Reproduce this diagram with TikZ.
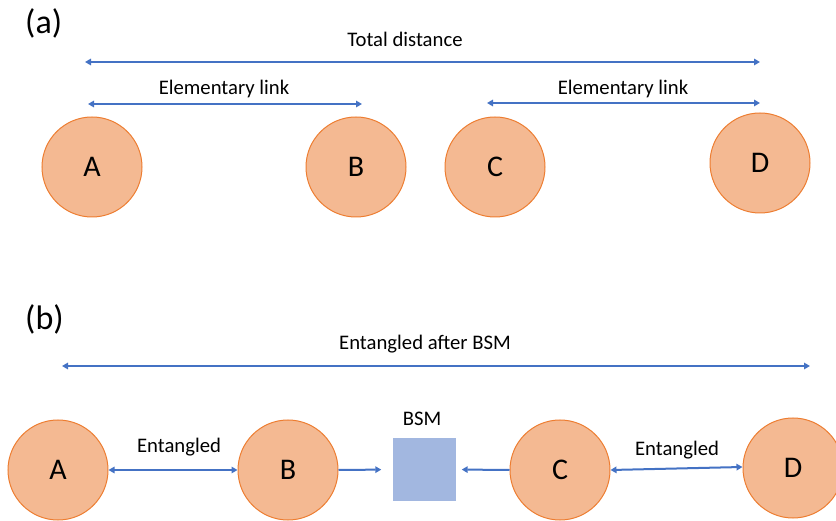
\documentclass[tikz,border=0pt]{standalone}
\usepackage{fontspec}
\setmainfont{Carlito}
\usetikzlibrary{arrows.meta}
\definecolor{nodefill}{HTML}{F4B992}
\definecolor{nodeline}{HTML}{ED7D31}
\definecolor{arrowblue}{HTML}{4472C4}
\definecolor{bsmfill}{HTML}{A2B7E0}
\tikzset{
  station/.style={circle, draw=nodeline, fill=nodefill, line width=1pt, minimum size=100pt, inner sep=0pt, font=\fontsize{30}{34}\selectfont},
  lbl/.style={anchor=base, inner sep=0pt, font=\fontsize{20.7}{24}\selectfont},
  panel/.style={anchor=base west, inner sep=0pt, font=\fontsize{34}{40}\selectfont},
  link/.style={draw=arrowblue, line width=2pt},
  tipboth/.style={link, {Triangle[length=6pt,width=6.5pt]}-{Triangle[length=6pt,width=6.5pt]}},
  tipend/.style={link, -{Triangle[length=6pt,width=6.5pt]}},
  bsmbox/.style={draw=none, fill=bsmfill, minimum width=63pt, minimum height=63pt, inner sep=0pt}
}
\begin{document}
\begin{tikzpicture}[x=1pt,y=-1pt]
\useasboundingbox (0,0) rectangle (836,521);
\clip (0,0) rectangle (836,521);
% panel (a)
\node[panel] (pa) at (25,34) {(a)};
\node[lbl] (td) at (405,47) {Total distance};
\coordinate (td1) at (85,62);
\coordinate (td2) at (760,62);
\draw[tipboth] (td1) -- (td2);
\node[lbl] (el1) at (224,95) {Elementary link};
\coordinate (el1a) at (88,104);
\coordinate (el1b) at (362,104);
\draw[tipboth] (el1a) -- (el1b);
\node[lbl] (el2) at (623,95) {Elementary link};
\coordinate (el2a) at (487,103);
\coordinate (el2b) at (760,103);
\draw[tipboth] (el2a) -- (el2b);
\node[station] (aA) at (92,167) {A};
\node[station] (aB) at (356,167) {B};
\node[station] (aC) at (495,167) {C};
\node[station] (aD) at (760,163) {D};
% panel (b)
\node[panel] (pb) at (25,330) {(b)};
\node[lbl] (eab) at (425,350) {Entangled after BSM};
\coordinate (e1) at (62,366);
\coordinate (e2) at (810,366);
\draw[tipboth] (e1) -- (e2);
\node[station] (bA) at (58,470) {A};
\node[station] (bB) at (288,470) {B};
\node[bsmfill, bsmbox] (bsm) at (424,469.5) {};
\node[lbl] (bsml) at (422,426) {BSM};
\node[station] (bC) at (560,470) {C};
\node[station] (bD) at (793,468) {D};
\node[lbl] (ent1) at (179,453) {Entangled};
\node[lbl] (ent2) at (677,455) {Entangled};
\draw[tipboth] (bA.east) -- (bB.west);
\draw[tipend, shorten >=11pt] (bB.east) -- (bsm.west);
\draw[tipend, shorten >=6pt] (bC.west) -- (bsm.east);
\draw[tipboth] (bC.east) -- ([yshift=1pt]bD.west);
\end{tikzpicture}
\end{document}
